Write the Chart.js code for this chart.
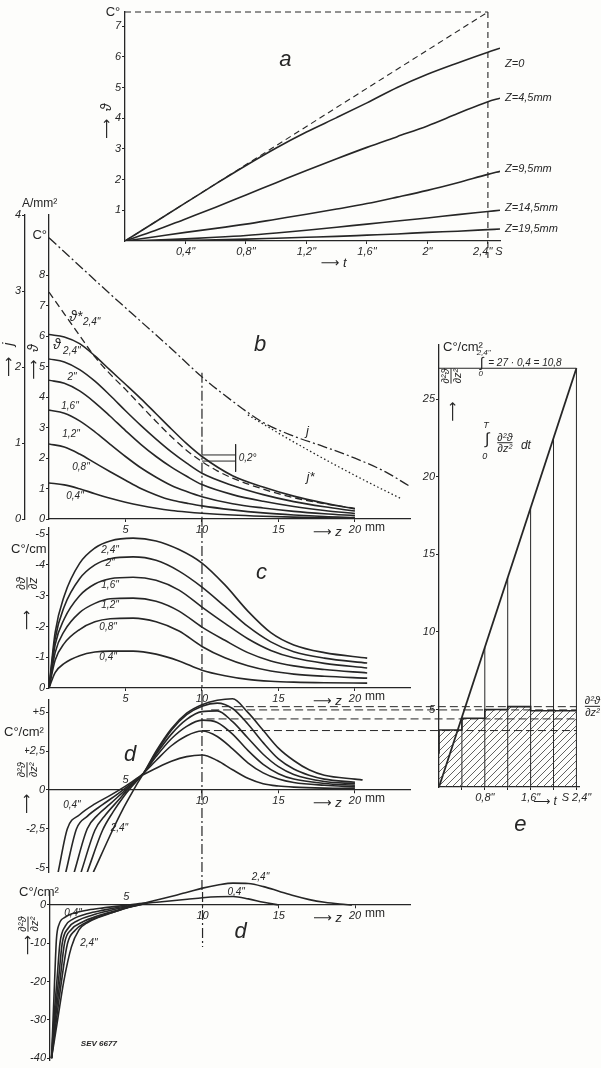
<!DOCTYPE html>
<html lang="de">
<head>
<meta charset="UTF-8">
<title>Erwärmung des Leiters</title>
<script src="https://cdn.jsdelivr.net/npm/chart.js@4.4.1/dist/chart.umd.min.js"></script>
<style>
  body { margin: 0; background: #ffffff; }
  #page { position: relative; width: 601px; height: 1068px; background: #fdfdfb; overflow: hidden; }
  #page canvas { position: absolute; left: 0; top: 0; }
</style>
</head>
<body>
<div id="page">
  <canvas id="chA" width="601" height="1068"></canvas>
  <canvas id="chB" width="601" height="1068"></canvas>
  <canvas id="chC" width="601" height="1068"></canvas>
  <canvas id="chD1" width="601" height="1068"></canvas>
  <canvas id="chD2" width="601" height="1068"></canvas>
  <canvas id="chE" width="601" height="1068"></canvas>
</div>
<script>
// ---------- a: Temperatur über der Zeit ----------
const tA = [0, 0.2, 0.4, 0.6, 0.8, 1.0, 1.2, 1.4, 1.6, 1.8, 2.0, 2.2, 2.4, 2.48];
const thZ0   = [0, 0.62, 1.24, 1.86, 2.46, 3.03, 3.55, 4.02, 4.5, 5.0, 5.43, 5.8, 6.15, 6.28];
const thZ45  = [0, 0.34, 0.72, 1.1, 1.5, 1.9, 2.3, 2.68, 3.05, 3.4, 3.75, 4.15, 4.54, 4.65];
const thZ95  = [0, 0.14, 0.28, 0.41, 0.55, 0.71, 0.87, 1.04, 1.22, 1.43, 1.65, 1.9, 2.17, 2.27];
const thZ145 = [0, 0.03, 0.07, 0.12, 0.18, 0.26, 0.35, 0.45, 0.55, 0.65, 0.75, 0.86, 0.96, 1.0];
const thZ195 = [0, 0.01, 0.02, 0.04, 0.06, 0.09, 0.12, 0.15, 0.19, 0.23, 0.28, 0.32, 0.37, 0.39];
const zLabelsA = ['Z=0', 'Z=4,5mm', 'Z=9,5mm', 'Z=14,5mm', 'Z=19,5mm'];
const tangentT = [0, 2.4];
const tangentV = [0, 7.46];
const tTicksA = [0.4, 0.8, 1.2, 1.6, 2.0, 2.4];
const tTickLabelsA = ['0,4"', '0,8"', '1,2"', '1,6"', '2"', '2,4" S'];
const thTicksA = [1, 2, 3, 4, 5, 6, 7];

// ---------- b: Temperatur und Stromdichte längs z ----------
const zB = [0, 1, 2, 3, 4, 5, 6, 7, 8, 9, 10, 12, 14, 16, 18, 20];
const thB24 = [6.05, 5.97, 5.75, 5.35, 4.88, 4.42, 3.95, 3.45, 2.95, 2.47, 2.05, 1.42, 1.05, 0.75, 0.52, 0.33];
const thB20 = [5.25, 5.15, 4.9, 4.52, 4.05, 3.55, 3.07, 2.62, 2.2, 1.83, 1.5, 1.1, 0.8, 0.57, 0.4, 0.26];
const thB16 = [4.55, 4.45, 4.2, 3.82, 3.37, 2.9, 2.45, 2.05, 1.7, 1.4, 1.13, 0.8, 0.58, 0.41, 0.28, 0.18];
const thB12 = [3.57, 3.47, 3.22, 2.86, 2.45, 2.05, 1.68, 1.37, 1.1, 0.9, 0.73, 0.5, 0.36, 0.25, 0.17, 0.11];
const thB08 = [2.46, 2.36, 2.13, 1.84, 1.55, 1.27, 1.0, 0.79, 0.62, 0.52, 0.43, 0.3, 0.2, 0.13, 0.08, 0.05];
const thB04 = [1.18, 1.12, 0.99, 0.83, 0.68, 0.55, 0.44, 0.35, 0.28, 0.23, 0.19, 0.13, 0.09, 0.06, 0.04, 0.03];
const zStarB = [0, 1, 2, 3, 4, 5, 6, 7, 8, 9, 10, 11, 12, 14, 16, 18, 20];
const thStarB = [7.44, 6.73, 6.02, 5.32, 4.75, 4.25, 3.72, 3.2, 2.7, 2.25, 1.88, 1.58, 1.34, 0.98, 0.7, 0.5, 0.35];
const zJ = [0, 2, 4, 6, 8, 10, 12, 14, 16, 18, 20, 22, 23.5];
const jB = [3.7, 3.33, 2.96, 2.6, 2.24, 1.87, 1.55, 1.27, 1.09, 0.95, 0.8, 0.62, 0.44];
const zJStar = [13, 15, 17, 19, 21, 23];
const jStarB = [1.37, 1.13, 0.9, 0.68, 0.47, 0.27];
const zTicks = [5, 10, 15, 20];
const zTickLabels = ['5', '10', '15', '20'];
const thTicksB = [0, 1, 2, 3, 4, 5, 6, 7, 8];
const jTicksB = [0, 1, 2, 3, 4];
const bracketZ = [10, 12.2];
const bracketHi = [2.1, 2.1];
const bracketLo = [1.9, 1.9];

// ---------- c: erste Ableitung ----------
const zC = [0, 0.4, 1, 2, 3, 4, 5.5, 7, 8.5, 10, 11.5, 13, 14.5, 16, 18, 20.8];
const dC24 = [0, -1.8, -3.0, -4.05, -4.55, -4.78, -4.87, -4.78, -4.5, -4.06, -3.35, -2.5, -1.8, -1.4, -1.15, -0.97];
const dC20 = [0, -1.6, -2.65, -3.55, -4.0, -4.2, -4.26, -4.15, -3.8, -3.28, -2.65, -2.0, -1.5, -1.18, -0.97, -0.81];
const dC16 = [0, -1.4, -2.25, -3.0, -3.38, -3.55, -3.6, -3.5, -3.18, -2.63, -2.1, -1.6, -1.22, -0.98, -0.8, -0.65];
const dC12 = [0, -1.15, -1.85, -2.45, -2.75, -2.9, -2.92, -2.82, -2.5, -1.98, -1.55, -1.15, -0.88, -0.72, -0.6, -0.49];
const dC08 = [0, -0.9, -1.45, -1.9, -2.15, -2.25, -2.27, -2.15, -1.85, -1.35, -0.98, -0.72, -0.55, -0.45, -0.38, -0.32];
const dC04 = [0, -0.5, -0.8, -1.05, -1.17, -1.2, -1.2, -1.1, -0.88, -0.58, -0.4, -0.28, -0.22, -0.19, -0.17, -0.16];
const cTicks = [-5, -4, -3, -2, -1, 0];

// ---------- d: zweite Ableitung (oben) ----------
const zD04 = [0.6, 1.2, 2, 3, 4, 5, 6, 7, 8, 9, 10, 11, 12, 13, 14, 15, 16, 18, 20];
const dD04 = [-5.3, -2.5, -1.6, -0.9, -0.35, 0.25, 0.9, 1.4, 1.85, 2.15, 2.25, 1.9, 1.3, 0.75, 0.4, 0.25, 0.18, 0.12, 0.1];
const zD08 = [1.1, 1.8, 2.5, 3.5, 4.5, 5.5, 6.2, 7, 8, 9, 10, 11, 12, 13, 14, 15, 16, 18, 20];
const dD08 = [-5.3, -2.5, -1.7, -0.95, -0.25, 0.5, 1.1, 1.9, 2.85, 3.5, 3.8, 3.45, 2.65, 1.75, 1.1, 0.7, 0.48, 0.3, 0.2];
const zD12 = [1.65, 2.5, 3.2, 4, 5, 5.7, 6.2, 7, 8, 9, 10, 11, 12, 13, 14, 15, 16, 18, 20];
const dD12 = [-5.3, -2.5, -1.6, -0.9, 0.0, 0.6, 1.1, 2.15, 3.3, 4.1, 4.5, 4.35, 3.6, 2.55, 1.65, 1.05, 0.7, 0.42, 0.3];
const zD16 = [2.1, 3, 3.7, 4.5, 5.2, 5.8, 6.2, 7, 8, 9, 10, 11, 12, 13, 14, 15, 16, 18, 20];
const dD16 = [-5.3, -2.6, -1.6, -0.7, 0.1, 0.7, 1.1, 2.3, 3.6, 4.55, 5.05, 5.1, 4.4, 3.35, 2.3, 1.5, 1.0, 0.55, 0.4];
const zD20 = [2.5, 3.5, 4.2, 4.9, 5.4, 5.9, 6.2, 7, 8, 9, 10, 11, 12, 13, 14, 15, 16, 17, 18, 20];
const dD20 = [-5.3, -2.6, -1.4, -0.4, 0.2, 0.75, 1.1, 2.4, 3.85, 4.85, 5.4, 5.6, 5.25, 4.25, 3.05, 2.0, 1.35, 0.95, 0.7, 0.5];
const zD24 = [2.9, 4.2, 4.8, 5.3, 5.7, 6.2, 7, 8, 9, 10, 11, 12, 13, 14, 15, 16, 17, 18, 20, 20.5];
const dD24 = [-5.3, -2.5, -1.3, -0.4, 0.3, 1.1, 2.5, 3.95, 4.95, 5.5, 5.78, 5.88, 5.0, 3.85, 2.7, 1.9, 1.3, 0.95, 0.7, 0.65];
const d1Ticks = [-5, -2.5, 0, 2.5, 5];
const d1TickLabels = ['-5', '-2,5', '0', '+2,5', '+5'];
const peakLevels = [5.37, 5.16, 4.58, 3.83];
const peakFromZ = [11.3, 10.6, 10.3, 10.0];
const peakToZ = 34.5;

// ---------- d: zweite Ableitung (unten) ----------
const zE04 = [0.1, 0.2, 0.3, 0.42, 0.6, 1, 1.5, 2.5, 3.5, 4.5, 5.5, 7, 8, 9, 10, 11, 12, 13, 14, 15];
const dE04 = [-40, -30, -20, -9, -5, -3.2, -2.2, -1.3, -0.75, -0.3, 0.2, 0.7, 1.1, 1.5, 1.9, 2.15, 2.2, 1.6, 0.7, 0];
const zE08 = [0.1, 0.25, 0.45, 0.65, 1, 1.5, 2.5, 3.5, 4.5, 5.5, 6.3];
const dE08 = [-40, -30, -20, -10, -5.5, -3.7, -2.2, -1.35, -0.6, 0, 0.4];
const zE12 = [0.1, 0.3, 0.55, 0.8, 1.2, 1.8, 2.8, 3.8, 4.8, 5.7, 6.3];
const dE12 = [-40, -30, -20, -10, -6, -4.1, -2.6, -1.55, -0.65, 0, 0.4];
const zE16 = [0.1, 0.35, 0.65, 0.95, 1.4, 2.1, 3.1, 4.1, 5, 5.8, 6.3];
const dE16 = [-40, -30, -20, -10, -6.4, -4.5, -2.9, -1.7, -0.7, 0, 0.4];
const zE20 = [0.1, 0.42, 0.75, 1.15, 1.65, 2.3, 3.2, 4.2, 5.2, 5.9, 6.3];
const dE20 = [-40, -30, -20, -10, -6.6, -4.7, -3.1, -1.8, -0.6, 0.05, 0.4];
const zE24 = [0.1, 0.5, 0.9, 1.4, 1.9, 2.5, 3.2, 4, 5, 6, 7, 8, 9, 10, 11, 12, 13, 14, 15, 16, 17, 18, 19, 19.8];
const dE24 = [-40, -30, -20, -11, -6.5, -4.5, -3.2, -2.1, -0.8, 0.3, 1.3, 2.3, 3.3, 4.4, 5.2, 5.7, 5.6, 4.8, 3.6, 2.4, 1.4, 0.7, 0.25, 0];
const d2Ticks = [-40, -30, -20, -10, 0];

// ---------- e: Integral über die Zeit ----------
const barT = [0, 0.4, 0.8, 1.2, 1.6, 2.0, 2.4];
const barV = [2.15, 3.68, 4.43, 5.0, 5.18, 4.92, 4.92];
const sepT = [0.4, 0.8, 1.2, 1.6, 2.0, 2.4];
const sepTop = [4.5, 9.0, 13.5, 18.0, 22.5, 27.0];
const intT = [0, 2.4];
const intV = [0, 27];
const eTicksY = [5, 10, 15, 20, 25];
const eTicksT = [0.4, 0.8, 1.2, 1.6, 2.0, 2.4];
const eTickLabelsT = ['', '0,8"', '', '1,6"', '', 'S 2,4"'];

// ---------- gemeinsame Hilfen ----------
const INK = '#262626';
const FONT = "'Liberation Sans', 'DejaVu Sans', sans-serif";
const tickFont = { family: FONT, size: 11, style: 'italic' };

function pts(xs, ys) { return xs.map((x, i) => ({ x: x, y: ys[i] })); }

function curve(xs, ys, extra) {
  return Object.assign({
    data: pts(xs, ys), borderColor: INK, borderWidth: 1.6, pointRadius: 0,
    fill: false, cubicInterpolationMode: 'monotone'
  }, extra || {});
}

function straight(xs, ys, extra) {
  return Object.assign({
    data: pts(xs, ys), borderColor: INK, borderWidth: 1.2, pointRadius: 0,
    fill: false, tension: 0
  }, extra || {});
}

function scale(min, max, ticks, labels, extra) {
  return Object.assign({
    type: 'linear', min: min, max: max,
    afterBuildTicks: s => { s.ticks = ticks.map(v => ({ value: v })); },
    ticks: { autoSkip: false, maxRotation: 0, color: INK, font: tickFont, padding: 1,
      callback: (v, i) => labels[i] },
    grid: { drawOnChartArea: false, drawTicks: true, tickLength: 3, color: INK, lineWidth: 1 },
    border: { display: true, color: INK, width: 1.3 }
  }, extra || {});
}

function drawFrac(ctx, num, den, size) {
  ctx.font = 'italic ' + size + 'px ' + FONT;
  ctx.textAlign = 'center';
  const w = Math.max(ctx.measureText(num).width, ctx.measureText(den).width);
  ctx.textBaseline = 'alphabetic';
  ctx.fillText(num, 0, -2);
  ctx.textBaseline = 'top';
  ctx.fillText(den, 0, 1);
  ctx.beginPath(); ctx.moveTo(-w / 2, 0); ctx.lineTo(w / 2, 0);
  ctx.lineWidth = 1; ctx.strokeStyle = INK; ctx.stroke();
}

// Text an Daten- oder Rahmenpunkten
function textPlugin(items) {
  return {
    id: 'texts',
    afterDatasetsDraw(chart) {
      const ctx = chart.ctx, ca = chart.chartArea, xs = chart.scales.x;
      ctx.save();
      ctx.fillStyle = INK;
      items.forEach(it => {
        const ys = chart.scales[it.axis || 'y'];
        let px = typeof it.x === 'number' ? xs.getPixelForValue(it.x) : (it.x === 'R' ? ca.right : ca.left);
        let py = typeof it.y === 'number' ? ys.getPixelForValue(it.y) : (it.y === 'B' ? ca.bottom : ca.top);
        px += it.dx || 0; py += it.dy || 0;
        ctx.save();
        ctx.translate(px, py);
        if (it.rot) ctx.rotate(it.rot);
        if (it.frac) {
          drawFrac(ctx, it.frac[0], it.frac[1], it.size || 12);
        } else {
          ctx.font = it.font || ('italic 11px ' + FONT);
          ctx.textAlign = it.align || 'center';
          ctx.textBaseline = it.base || 'middle';
          ctx.fillText(it.t, 0, 0);
        }
        ctx.restore();
      });
      ctx.restore();
    }
  };
}

function base(L, T, R, B) {
  return {
    responsive: false, animation: false, devicePixelRatio: 1,
    layout: { padding: { left: L, top: T, right: R, bottom: B } },
    plugins: { legend: { display: false }, tooltip: { enabled: false } }
  };
}

const letter = 'italic 22px ' + FONT;
const small = 'italic 10px ' + FONT;
const arrow = '14px ' + FONT;
const UP = -Math.PI / 2;

// ---------- Diagramm a ----------
const optA = base(100, 12, 101, 797);
optA.scales = {
  x: scale(0, 2.48, tTicksA, tTickLabelsA, { afterFit: s => { s.height = 30; } }),
  y: scale(0, 7.46, thTicksA, thTicksA.map(String), { afterFit: s => { s.width = 25; } })
};
const endsA = [thZ0, thZ45, thZ95, thZ145, thZ195];
const zLabelDy = [16, 0, -2, -2, 0];
const textsA = [
  { t: 'a', x: 1.06, y: 5.9, font: letter },
  { t: 'C°', x: 0, y: 7.46, dx: -12, font: '13px ' + FONT },
  { t: 'ϑ', x: 0, y: 4.35, dx: -18, rot: UP, font: 'italic 14px ' + FONT },
  { t: '⟶', x: 0, y: 3.65, dx: -18, rot: UP, font: arrow },
  { t: '⟶ t', x: 1.38, y: 0, dy: 22, font: 'italic 13px ' + FONT }
].concat(endsA.map((arr, i) => ({ t: zLabelsA[i], x: 2.48, y: arr[arr.length - 1], dx: 5, dy: zLabelDy[i], align: 'left', font: 'italic 11px ' + FONT })));

new Chart(document.getElementById('chA'), {
  type: 'line',
  data: { datasets: [
    curve(tA, thZ0), curve(tA, thZ45), curve(tA, thZ95), curve(tA, thZ145), curve(tA, thZ195),
    straight(tangentT, tangentV, { borderDash: [6, 4], borderWidth: 1.1 }),
    straight([0, 2.4], [7.46, 7.46], { borderDash: [6, 4], borderWidth: 1.1, clip: false }),
    straight([2.4, 2.4], [-0.55, 7.46], { borderDash: [6, 4], borderWidth: 1.1, clip: false })
  ] },
  options: optA,
  plugins: [textPlugin(textsA)]
});

// ---------- Diagramm b ----------
const optB = base(0, 215, 191, 529);
optB.scales = {
  x: scale(0, 23.6, zTicks, zTickLabels, { afterFit: s => { s.height = 20; } }),
  y: scale(0, 9.97, thTicksB, thTicksB.map(String), { position: 'left', weight: 0, afterFit: s => { s.width = 24; } }),
  j: scale(0, 4, jTicksB, jTicksB.map(String), { position: 'left', weight: 1, afterFit: s => { s.width = 25; } })
};
const textsB = [
  { t: 'b', x: 13.8, y: 5.7, font: letter },
  { t: 'C°', x: 0, y: 9.3, dx: -2, align: 'right', font: '13px ' + FONT },
  { t: 'A/mm²', x: 0, y: 4, axis: 'j', dx: -27, dy: -11, align: 'left', font: '12px ' + FONT },
  { t: 'ϑ', x: 0, y: 5.6, dx: -15, rot: UP, font: 'italic 14px ' + FONT },
  { t: '⟶', x: 0, y: 4.9, dx: -15, rot: UP, font: arrow },
  { t: 'j', x: 0, y: 2.3, axis: 'j', dx: -40, rot: UP, font: 'italic 14px ' + FONT },
  { t: '⟶', x: 0, y: 2.0, axis: 'j', dx: -40, rot: UP, font: arrow },
  { t: 'ϑ*', x: 1.76, y: 6.62, font: 'italic 14px ' + FONT },
  { t: '2,4"', x: 2.22, y: 6.45, align: 'left', font: small },
  { t: 'ϑ', x: 0.52, y: 5.7, font: 'italic 14px ' + FONT },
  { t: '2,4"', x: 0.92, y: 5.5, align: 'left', font: small },
  { t: '2"', x: 1.5, y: 4.66, font: small },
  { t: '1,6"', x: 1.37, y: 3.7, font: small },
  { t: '1,2"', x: 1.44, y: 2.79, font: small },
  { t: '0,8"', x: 2.09, y: 1.7, font: small },
  { t: '0,4"', x: 1.7, y: 0.75, font: small },
  { t: 'j', x: 16.9, y: 1.07, axis: 'j', dy: -6, font: 'italic 13px ' + FONT },
  { t: 'j*', x: 17.1, y: 0.6, axis: 'j', dy: 4, font: 'italic 13px ' + FONT },
  { t: '0,2°', x: 12.4, y: 2.0, align: 'left', font: small },
  { t: 'mm', x: 20, y: 0, dx: 10, dy: 9, align: 'left', font: '12px ' + FONT },
  { t: '⟶ z', x: 18.2, y: 0, dy: 13, font: 'italic 13px ' + FONT }
];
new Chart(document.getElementById('chB'), {
  type: 'line',
  data: { datasets: [
    curve(zB, thB24), curve(zB, thB20), curve(zB, thB16), curve(zB, thB12), curve(zB, thB08), curve(zB, thB04),
    curve(zStarB, thStarB, { borderDash: [7, 4], borderWidth: 1.3 }),
    curve(zJ, jB, { yAxisID: 'j', borderDash: [10, 3, 2, 3], borderWidth: 1.3 }),
    curve(zJStar, jStarB, { yAxisID: 'j', borderDash: [1.5, 2.5], borderWidth: 1.3 }),
    straight([10, 10], [4.8, -0.3], { borderDash: [10, 3, 2, 3], clip: false }),
    straight(bracketZ, bracketHi, { borderWidth: 1 }),
    straight(bracketZ, bracketLo, { borderWidth: 1 }),
    straight([12.2, 12.2], [2.45, 1.55], { borderWidth: 1 })
  ] },
  options: optB,
  plugins: [textPlugin(textsB)]
});

// ---------- Diagramm c ----------
const optC = base(25, 528, 191, 360);
optC.scales = {
  x: scale(0, 23.6, zTicks, zTickLabels, { afterFit: s => { s.height = 20; } }),
  y: scale(-5.2, 0, cTicks, cTicks.map(String), { reverse: true, afterFit: s => { s.width = 24; } })
};
const textsC = [
  { t: 'c', x: 13.9, y: -3.74, font: letter },
  { t: 'C°/cm', x: 0, y: -4.5, dx: -38, align: 'left', font: '13px ' + FONT },
  { frac: ['∂ϑ', '∂z'], x: 0, y: -3.4, dx: -22, rot: UP, size: 12 },
  { t: '⟶', x: 0, y: -2.2, dx: -22, rot: UP, font: arrow },
  { t: '2,4"', x: 3.99, y: -4.49, font: small },
  { t: '2"', x: 3.99, y: -4.06, font: small },
  { t: '1,6"', x: 3.99, y: -3.35, font: small },
  { t: '1,2"', x: 3.99, y: -2.7, font: small },
  { t: '0,8"', x: 3.86, y: -1.98, font: small },
  { t: '0,4"', x: 3.86, y: -1.01, font: small },
  { t: 'mm', x: 20, y: 0, dx: 10, dy: 9, align: 'left', font: '12px ' + FONT },
  { t: '⟶ z', x: 18.2, y: 0, dy: 13, font: 'italic 13px ' + FONT }
];
new Chart(document.getElementById('chC'), {
  type: 'line',
  data: { datasets: [
    curve(zC, dC24), curve(zC, dC20), curve(zC, dC16), curve(zC, dC12), curve(zC, dC08), curve(zC, dC04),
    straight([10, 10], [-5.2, 0.39], { borderDash: [10, 3, 2, 3], clip: false })
  ] },
  options: optC,
  plugins: [textPlugin(textsC)]
});

// ---------- Diagramm d (oben) ----------
const optD1 = base(25, 700, 191, 196);
optD1.scales = {
  x: scale(0, 23.6, zTicks, ['', '10', '15', '20'], { position: { y: 0 } }),
  y: scale(-5.29, 5.8, d1Ticks, d1TickLabels, { afterFit: s => { s.width = 24; } })
};
const textsD1 = [
  { t: 'd', x: 5.3, y: 2.26, font: letter },
  { t: 'C°/cm²', x: 0, y: 3.7, dx: -45, align: 'left', font: '13px ' + FONT },
  { frac: ['∂²ϑ', '∂z²'], x: 0, y: 1.3, dx: -22, rot: UP, size: 11 },
  { t: '⟶', x: 0, y: -0.9, dx: -22, rot: UP, font: arrow },
  { t: '5', x: 5, y: 0, dy: -10, font: 'italic 11px ' + FONT },
  { t: '0,4"', x: 1.5, y: -0.97, font: small },
  { t: '2,4"', x: 4.6, y: -2.45, font: small },
  { t: 'mm', x: 20, y: 0, dx: 10, dy: 9, align: 'left', font: '12px ' + FONT },
  { t: '⟶ z', x: 18.2, y: 0, dy: 13, font: 'italic 13px ' + FONT }
];
new Chart(document.getElementById('chD1'), {
  type: 'line',
  data: { datasets: [
    curve(zD04, dD04), curve(zD08, dD08), curve(zD12, dD12), curve(zD16, dD16), curve(zD20, dD20),
    curve(zD24, dD24, { clip: { left: 0, top: 8, right: 0, bottom: 0 } }),
    straight([10, 10], [5.8, -6.6], { borderDash: [10, 3, 2, 3], clip: false })
  ].concat(peakLevels.map((v, i) => straight([peakFromZ[i], peakToZ], [v, v], { borderDash: [8, 4], borderWidth: 1, clip: false }))) },
  options: optD1,
  plugins: [textPlugin(textsD1)]
});

// ---------- Diagramm d (unten) ----------
const optD2 = base(26, 892, 191, 8);
optD2.scales = {
  x: scale(0, 23.6, zTicks, ['', '10', '15', '20'], { position: { y: 0 } }),
  y: scale(-40.47, 3.39, d2Ticks, d2Ticks.map(String), { afterFit: s => { s.width = 24; } })
};
const textsD2 = [
  { t: 'd', x: 12.5, y: -7.05, font: letter },
  { t: 'C°/cm²', x: 0, y: 3.39, dx: -31, dy: 0, align: 'left', font: '13px ' + FONT },
  { frac: ['∂²ϑ', '∂z²'], x: 0, y: -5, dx: -22, rot: UP, size: 11 },
  { t: '⟶', x: 0, y: -10.5, dx: -22, rot: UP, font: arrow },
  { t: '5', x: 5, y: 0, dy: -8, font: 'italic 11px ' + FONT },
  { t: '0,4"', x: 0.85, y: -2.09, dx: 10, font: small },
  { t: '2,4"', x: 2.16, y: -9.9, dx: 6, font: small },
  { t: '0,4"', x: 12.2, y: 3.4, font: small },
  { t: '2,4"', x: 13.8, y: 7.3, font: small },
  { t: 'SEV 6677', x: 3.2, y: -36.3, font: 'italic bold 8px ' + FONT },
  { t: 'mm', x: 20, y: 0, dx: 10, dy: 9, align: 'left', font: '12px ' + FONT },
  { t: '⟶ z', x: 18.2, y: 0, dy: 13, font: 'italic 13px ' + FONT }
];
new Chart(document.getElementById('chD2'), {
  type: 'line',
  data: { datasets: [
    curve(zE04, dE04, { clip: false }), curve(zE08, dE08), curve(zE12, dE12), curve(zE16, dE16), curve(zE20, dE20),
    curve(zE24, dE24, { clip: false }),
    straight([10, 10], [3.39, -11], { borderDash: [10, 3, 2, 3], clip: false })
  ] },
  options: optD2,
  plugins: [textPlugin(textsD2)]
});

// ---------- Diagramm e ----------
function hatch() {
  const c = document.createElement('canvas');
  c.width = 7; c.height = 7;
  const g = c.getContext('2d');
  g.strokeStyle = '#3a3a3a'; g.lineWidth = 0.8;
  g.beginPath();
  g.moveTo(0, 7); g.lineTo(7, 0);
  g.moveTo(-1, 1); g.lineTo(1, -1);
  g.moveTo(6, 8); g.lineTo(8, 6);
  g.stroke();
  return g.createPattern(c, 'repeat');
}
const sepData = [];
sepT.forEach((t, i) => { sepData.push({ x: t, y: 0 }, { x: t, y: sepTop[i] }, { x: t, y: null }); });

const optE = base(414, 345, 21.7, 251);
optE.scales = {
  x: scale(0, 2.45, eTicksT, eTickLabelsT, { afterFit: s => { s.height = 30; } }),
  y: scale(0, 28.5, eTicksY, eTicksY.map(String), { afterFit: s => { s.width = 25; } })
};
const textsE = [
  { t: 'e', x: 1.42, y: 0, dy: 38, font: letter },
  { t: 'C°/cm²', x: 0, y: 28.5, dx: 4, dy: 2, align: 'left', font: '13px ' + FONT },
  { frac: ['∂²ϑ', '∂z²'], x: 0, y: 26.5, dx: 12, rot: UP, size: 11 },
  { t: '⟶', x: 0, y: 24.2, dx: 14, rot: UP, font: arrow },
  { t: '2,4"', x: 0.78, y: 27, dy: -15, font: 'italic 8px ' + FONT },
  { t: '∫', x: 0.75, y: 27, dy: -5, font: 'italic 14px ' + FONT },
  { t: '0', x: 0.73, y: 27, dy: 6, font: 'italic 8px ' + FONT },
  { t: '= 27 · 0,4 = 10,8', x: 0.86, y: 27, dy: -5, align: 'left', font: 'italic 10px ' + FONT },
  { t: 'T', x: 0.82, y: 23.3, font: 'italic 9px ' + FONT },
  { t: '∫', x: 0.84, y: 22.5, dy: 1, font: 'italic 16px ' + FONT },
  { t: '0', x: 0.8, y: 21.3, font: 'italic 9px ' + FONT },
  { frac: ['∂²ϑ', '∂z²'], x: 1.15, y: 22.2, size: 11 },
  { t: 'dt', x: 1.43, y: 22.0, align: 'left', font: 'italic 12px ' + FONT },
  { frac: ['∂²ϑ', '∂z²'], x: 2.4, y: 5.2, dx: 16, size: 11 },
  { t: '⟶ t', x: 1.85, y: 0, dy: 15, font: 'italic 12px ' + FONT }
];
new Chart(document.getElementById('chE'), {
  type: 'line',
  data: { datasets: [
    straight(barT, barV, { stepped: 'after', fill: 'origin', backgroundColor: hatch(), borderWidth: 1.6 }),
    { data: sepData, borderColor: INK, borderWidth: 1, pointRadius: 0, fill: false, tension: 0, spanGaps: false },
    straight(intT, intV, { borderWidth: 1.8, clip: false }),
    straight([0, 2.4], [27, 27], { borderWidth: 1, clip: false })
  ] },
  options: optE,
  plugins: [textPlugin(textsE)]
});
</script>
</body>
</html>
